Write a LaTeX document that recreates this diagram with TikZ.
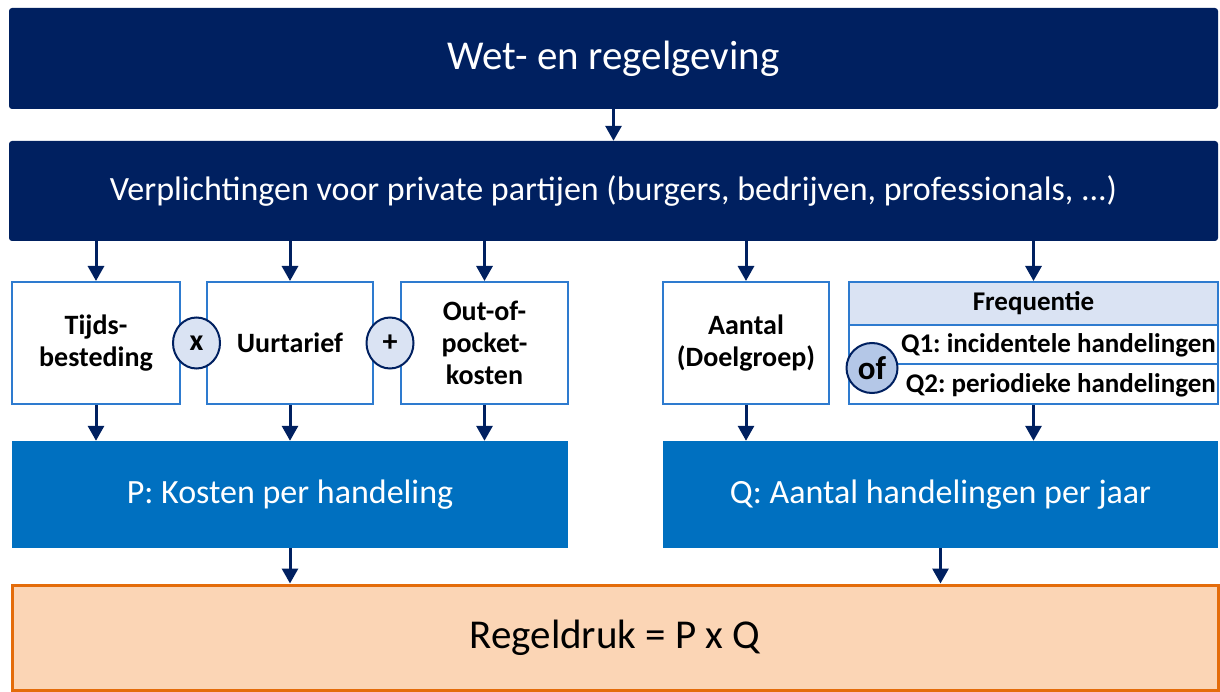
\documentclass[tikz,border=0pt]{standalone}
\usepackage{fontspec}
\setmainfont{Carlito}
\frenchspacing
\usetikzlibrary{arrows.meta,positioning,shapes.geometric}
\definecolor{navy}{HTML}{002060}
\definecolor{midblue}{HTML}{0070C0}
\definecolor{boxline}{HTML}{2E7BCF}
\definecolor{paleblue}{HTML}{DAE3F3}
\definecolor{ofblue}{HTML}{B4C7E7}
\definecolor{peach}{HTML}{FBD5B5}
\definecolor{orangeline}{HTML}{E46C0A}
\tikzset{
  x=1pt,y=-1pt,
  navybox/.style={fill=navy,draw=none,rounded corners=3pt,text=white,inner sep=0pt},
  smallbox/.style={draw=boxline,line width=2pt,fill=white,inner sep=0pt,align=center,font=\fontsize{28}{32}\selectfont\bfseries},
  bluebox/.style={fill=midblue,draw=none,inner sep=0pt,text=white,font=\fontsize{34}{38}\selectfont},
  opcircle/.style={ellipse,draw=navy,line width=2pt,fill=paleblue,inner sep=0pt,minimum width=47pt,minimum height=51pt,font=\fontsize{30}{32}\selectfont\bfseries},
  qtext/.style={anchor=east,inner sep=0pt,font=\fontsize{27}{30}\selectfont\bfseries},
  arr/.style={draw=navy,line width=3pt,-{Triangle[width=16pt,length=15pt]}},
}
\begin{document}
\begin{tikzpicture}
\useasboundingbox (0,0) rectangle (1220,692);
% top boxes
\node[navybox,minimum width=1209pt,minimum height=101pt,font=\fontsize{41}{46}\selectfont] (wet) at (613.5,58.5) {\raisebox{-3pt}{Wet- en regelgeving}};
\node[navybox,minimum width=1209pt,minimum height=100pt,font=\fontsize{34}{38}\selectfont] (verpl) at (613.5,191) {\raisebox{-3pt}{Verplichtingen voor private partijen (burgers, bedrijven, professionals, ...)}};
% small boxes
\node[smallbox,minimum width=168pt,minimum height=122pt] (tijd) at (96,343) {Tijds-\\besteding};
\node[smallbox,minimum width=166pt,minimum height=122pt] (uur) at (290,343) {Uurtarief};
\node[smallbox,minimum width=167pt,minimum height=122pt] (oop) at (484.5,343) {Out-of-\\pocket-\\kosten};
\node[smallbox,minimum width=166pt,minimum height=122pt] (aantal) at (746,343) {Aantal\\(Doelgroep)};
\node[smallbox,minimum width=369pt,minimum height=122pt] (freq) at (1033.5,343) {};
\node[draw=boxline,line width=2pt,fill=paleblue,minimum width=369pt,minimum height=43pt,inner sep=0pt,font=\fontsize{27}{30}\selectfont\bfseries] (freqh) at (1033.5,303.5) {Frequentie};
\node[draw=boxline,line width=2pt,minimum width=369pt,minimum height=39pt,inner sep=0pt] (q1row) at (1033.5,344.5) {};
\node[draw=boxline,line width=2pt,minimum width=369pt,minimum height=40pt,inner sep=0pt] (q2row) at (1033.5,384) {};
\node[qtext] (q1) at (1216,345) {Q1: incidentele handelingen};
\node[qtext] (q2) at (1216,385) {Q2: periodieke handelingen};
% operator circles
\node[opcircle] (times) at (196.5,343) {x};
\node[opcircle] (plus) at (390,343) {+};
\node[opcircle,fill=ofblue,minimum width=51pt,minimum height=50pt,font=\fontsize{33}{34}\selectfont\bfseries] (of) at (872,368) {of};
% P and Q
\node[bluebox,minimum width=556pt,minimum height=107pt] (P) at (290,494.5) {P: Kosten per handeling};
\node[bluebox,minimum width=555pt,minimum height=107pt] (Q) at (940.5,494.5) {Q: Aantal handelingen per jaar};
% result
\node[draw=orangeline,line width=3pt,fill=peach,minimum width=1206pt,minimum height=105pt,inner sep=0pt,font=\fontsize{41}{46}\selectfont] (res) at (615,637.5) {Regeldruk = P x Q};
% arrows
\draw[arr] (wet.south) -- (verpl.north);
\foreach \n in {tijd,uur,oop,aantal,freq}{
  \draw[arr] (verpl.south -| \n.north) -- (\n.north);
}
\foreach \n/\m in {tijd/P,uur/P,oop/P,aantal/Q,freq/Q}{
  \draw[arr] (\n.south) -- (\n.south |- \m.north);
}
\draw[arr] (P.south) -- (P.south |- res.north);
\draw[arr] (Q.south) -- (Q.south |- res.north);
\end{tikzpicture}
\end{document}
